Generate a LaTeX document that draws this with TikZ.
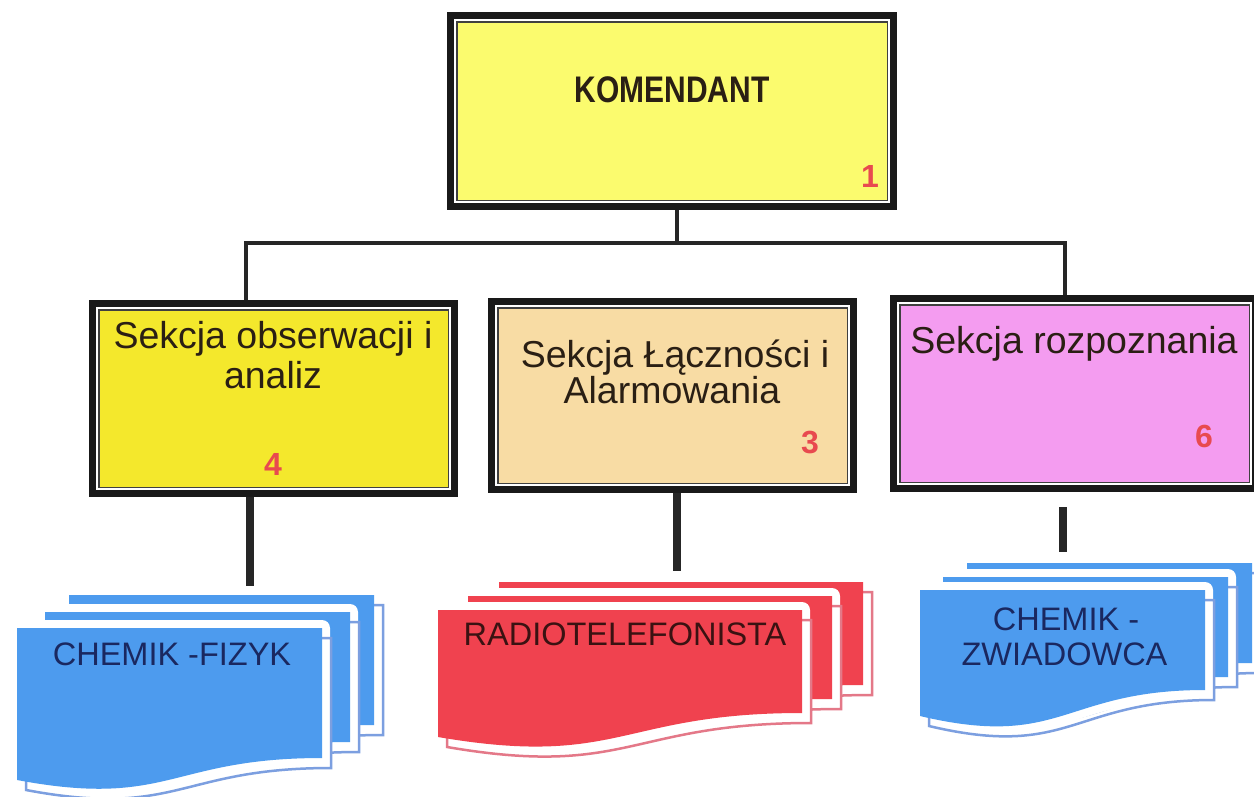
\documentclass[tikz,border=0pt]{standalone}
\usepackage{fontspec}
\setmainfont{Liberation Sans}
\usetikzlibrary{calc}
\definecolor{ykom}{HTML}{FBFB6E}
\definecolor{ysec}{HTML}{F4E82C}
\definecolor{beige}{HTML}{F8DCA4}
\definecolor{pinkbox}{HTML}{F49CF0}
\definecolor{docblue}{HTML}{4D9BEE}
\definecolor{docred}{HTML}{F0424F}
\definecolor{shblue}{HTML}{7C9FE0}
\definecolor{shred}{HTML}{E47888}
\definecolor{numred}{HTML}{E84A4F}
\definecolor{secttext}{HTML}{2A1F14}
\definecolor{bluetext}{HTML}{1A2860}
\definecolor{redtext}{HTML}{3A1212}
\newcommand\sheetpath[5]{({#1},{#2}) -- ({#1+#3},{#2}) -- ({#1+#3},{#2+#4}) .. controls ({#1+0.5*#3},{#2+#4}) and ({#1+0.5*#3},{#2+#5+1.3*(#5-#4)}) .. ({#1},{#2+#5}) -- cycle}
\newcommand\docsheet[7]{%
  \draw[white, line width=16pt, line join=round] \sheetpath{#1}{#2}{#3}{#4}{#5};
  \draw[#7, line width=2.5pt] \sheetpath{#1+9}{#2+10}{#3}{#4}{#5};
  \fill[#6] \sheetpath{#1}{#2}{#3}{#4}{#5};}
\newcommand\innerlines[1]{%
  \draw[white, line width=2pt] ([shift={(4.5,4.5)}]#1.north west) rectangle ([shift={(-4.5,-4.5)}]#1.south east);
  \draw[black!75, line width=1.5pt] ([shift={(6.25,6.25)}]#1.north west) rectangle ([shift={(-6.25,-6.25)}]#1.south east);}
\tikzset{
  orgbox/.style={draw=black!90, line width=7pt, inner sep=0pt, outer sep=0pt},
  conn/.style={draw=black!85, line width=4.5pt},
  conn2/.style={draw=black!85, line width=7.5pt},
  secttxt/.style={anchor=base, inner sep=0pt, text=secttext, font=\fontsize{37.5}{38}\selectfont},
  numtxt/.style={anchor=base, inner sep=0pt, text=numred, font=\fontsize{32}{32}\selectfont\bfseries},
  doctxt/.style={anchor=base, inner sep=0pt, font=\fontsize{32.5}{33}\selectfont},
}
\begin{document}
\begin{tikzpicture}[x=1pt, y=-1pt]
\useasboundingbox (0,0) rectangle (1254,796);
\clip (0,0) rectangle (1254,796);
\fill[white] (0,0) rectangle (1254,796);

% boxes
\node[orgbox, fill=ykom, minimum width=443pt, minimum height=191pt] (k) at (672,111) {};
\innerlines{k}
\node[orgbox, fill=ysec, minimum width=362pt, minimum height=190pt] (s1) at (273.5,398.5) {};
\innerlines{s1}
\node[orgbox, fill=beige, minimum width=362pt, minimum height=188pt] (s2) at (672.5,395.5) {};
\innerlines{s2}
\node[orgbox, fill=pinkbox, minimum width=362pt, minimum height=190pt] (s3) at (1074.5,393.5) {};
\innerlines{s3}

% connectors
\coordinate (bar) at (677,243);
\draw[conn] ([yshift=-3.5pt]bar |- k.south) -- (bar);
\draw[conn] ([xshift=-27.5pt,yshift=3.5pt]s1.north) |- (bar) -| ([xshift=-9.5pt,yshift=3.5pt]s3.north);
\coordinate (e1) at (250,586);
\draw[conn2] ([yshift=-3.5pt]e1 |- s1.south) -- (e1);
\coordinate (e2) at (677,571);
\draw[conn2] ([yshift=-3.5pt]e2 |- s2.south) -- (e2);
\coordinate (e3a) at (1063,507);
\coordinate (e3b) at (1063,552);
\draw[conn2] (e3a) -- (e3b);

% texts in boxes
\node[anchor=base, inner sep=0pt, text=secttext, font=\fontsize{37}{37}\selectfont\bfseries] (kt) at (672,102) {\scalebox{0.81}[1]{KOMENDANT}};
\node[numtxt] (n1) at (870,187) {1};
\node[secttxt] (s1a) at (273,348) {Sekcja obserwacji i};
\node[secttxt] (s1b) at (273,388) {analiz};
\node[numtxt] (n4) at (273,475) {4};
\node[secttxt] (s2a) at (675,367) {Sekcja Łączności i};
\node[secttxt] (s2b) at (672,403) {Alarmowania};
\node[numtxt] (n3) at (810,453) {3};
\node[secttxt] (s3a) at (1074,353) {Sekcja rozpoznania};
\node[numtxt] (n6) at (1204,447) {6};

% multi-documents
\docsheet{69}{595}{305}{130}{152}{docblue}{shblue}
\docsheet{45}{612}{305}{130}{152}{docblue}{shblue}
\docsheet{17}{628}{305}{130}{152}{docblue}{shblue}
\node[doctxt, text=bluetext] (d1) at (172,665) {CHEMIK -FIZYK};

\docsheet{499}{582}{364}{103}{127}{docred}{shred}
\docsheet{468}{596}{364}{103}{127}{docred}{shred}
\docsheet{438}{610}{364}{103}{127}{docred}{shred}
\node[doctxt, text=redtext] (d2) at (625,645) {RADIOTELEFONISTA};

\docsheet{967}{563}{285}{100}{126}{docblue}{shblue}
\docsheet{943}{577}{285}{100}{126}{docblue}{shblue}
\docsheet{920}{590}{285}{100}{126}{docblue}{shblue}
\node[doctxt, text=bluetext] (d3a) at (1066,630) {CHEMIK -};
\node[doctxt, text=bluetext] (d3b) at (1064.5,665) {ZWIADOWCA};
\end{tikzpicture}
\end{document}
